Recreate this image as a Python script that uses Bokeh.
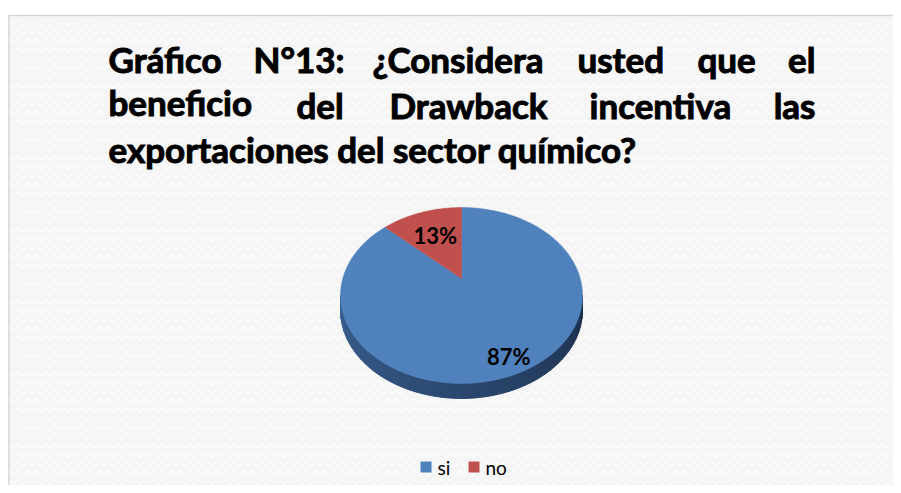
import math
from bokeh.plotting import figure
from bokeh.models import Range1d
from bokeh.core.properties import value
from bokeh.embed import file_html
from bokeh.resources import INLINE

# ---- data ----
categories = ["si", "no"]
values = [87, 13]
colors = ["#4F81BD", "#C0504D"]
title_lines = [
    ["Gráfico", "N°13:", "¿Considera", "usted", "que", "el"],
    ["beneficio", "del", "Drawback", "incentiva", "las"],
    ["exportaciones del sector químico?"],
]

W, H = 893, 485
p = figure(width=W, height=H, output_backend="svg", toolbar_location=None,
           x_range=Range1d(0, W), y_range=Range1d(H, 0), min_border=0,
           background_fill_color="white", border_fill_color="white")
p.axis.visible = False
p.grid.visible = False
p.outline_line_color = None

# frame with light texture
p.quad(left=8.5, right=W + 20, top=15, bottom=H + 20, fill_color="#f5f5f5",
       line_color="#d6d6d6", line_width=1.5,
       hatch_pattern="horizontal_wave", hatch_color="#fbfbfb", hatch_alpha=1.0,
       hatch_scale=9, hatch_weight=1.5)

# ---- title (justified words) ----
font = value("Lato")
line_word_x = [[108, 253, 372, 577, 697, 815], [108, 296, 389, 589, 815]]
line_y = [58, 104, 148]
for li, words in enumerate(title_lines):
    for wi, w in enumerate(words):
        if li < 2:
            xs = line_word_x[li][wi]
            align = "right" if wi == len(words) - 1 else "left"
            yy = line_y[li] - (3 if (li == 1 and wi == 0) else 0)
        else:
            xs, align, yy = 108, "left", line_y[li]
        p.text(x=[xs], y=[yy], text=[w], text_font=font, text_font_size="35px",
               text_font_style="bold", text_color="#000000",
               text_outline_color="#000000",
               text_align=align, text_baseline="middle")

# ---- 3D pie ----
cx, cy = 461, 278       # projected centre of the pie
sx, my, k = 118.7, 84.7, 0.193
depth = 15

def proj(theta, r=1.0):
    u, v = r * math.cos(theta), r * math.sin(theta)
    d = 1 + k * v
    return cx + sx * u / d, cy - my * v / d

total = sum(values)
starts, ends = [], []
a = math.pi / 2
for v in values:
    sweep = 2 * math.pi * v / total
    starts.append(a)
    ends.append(a - sweep)
    a -= sweep

# side band (front part of the rim)
t0 = math.pi + math.asin(k)
t1 = 2 * math.pi - math.asin(k)
N = 60
sxs, sys_, scol = [], [], []
for i in range(N):
    ta = t0 + (t1 - t0) * i / N
    tb = t0 + (t1 - t0) * (i + 1) / N
    xa, ya = proj(ta)
    xb, yb = proj(tb)
    sxs.append([xa, xb, xb, xa])
    sys_.append([ya, yb, yb + depth, ya + depth])
    f = i / (N - 1)
    c0, c1 = (0x3a, 0x60, 0x90), (0x1c, 0x30, 0x4e)
    c = tuple(int(c0[j] + (c1[j] - c0[j]) * f) for j in range(3))
    scol.append("#%02x%02x%02x" % c)
p.patches(xs=sxs, ys=sys_, fill_color=scol, line_color=scol, line_width=1)

# top surface slices
pxs, pys = [], []
for s, e in zip(starts, ends):
    n = max(8, int(abs(s - e) * 60))
    pts = [proj(s + (e - s) * j / n) for j in range(n + 1)]
    pxs.append([cx] + [q[0] for q in pts])
    pys.append([cy] + [q[1] for q in pts])
p.patches(xs=pxs, ys=pys, fill_color=colors, line_color=colors, line_width=0.5)

# labels
label_r = [0.85, 0.62]
lx, ly, lt = [], [], []
for s, e, v, r in zip(starts, ends, values, label_r):
    x, y = proj((s + e) / 2, r)
    lx.append(x); ly.append(y); lt.append(f"{v}%")
p.text(x=lx, y=ly, text=lt, text_font=font, text_font_size="22px",
       text_font_style="bold", text_color="#000000",
       text_align="center", text_baseline="middle")

# ---- legend ----
leg_x = [420, 468]
leg_y = 466.5
p.rect(x=[x + 5.5 for x in leg_x], y=[leg_y] * 2, width=11, height=11,
       fill_color=colors, line_color=None)
p.text(x=[x + 17 for x in leg_x], y=[leg_y] * 2, text=categories,
       text_font=font, text_font_size="19px", text_color="#000000",
       text_align="left", text_baseline="middle")

open("out.html", "w").write(file_html(p, INLINE))
